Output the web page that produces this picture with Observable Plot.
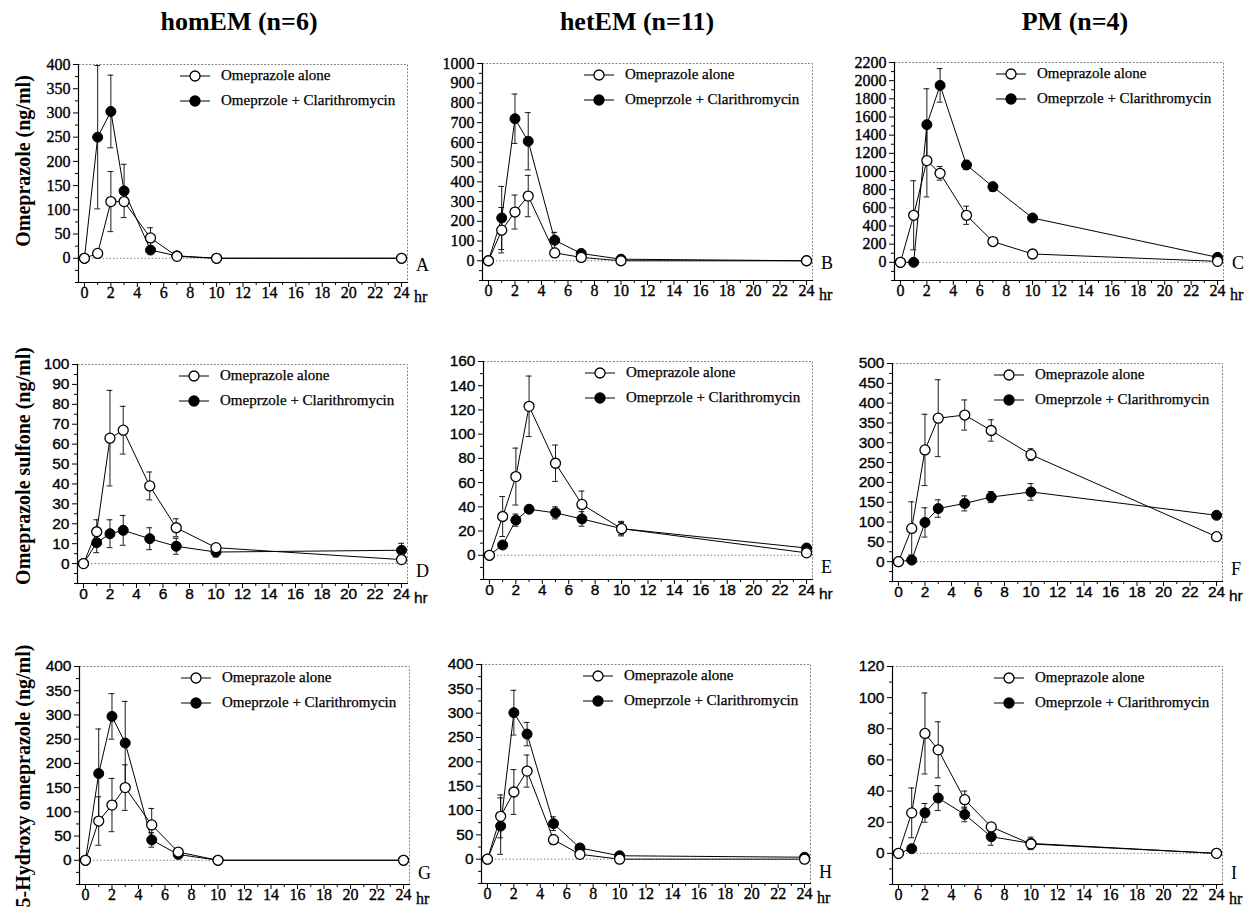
<!DOCTYPE html>
<html><head><meta charset="utf-8">
<script src="https://cdn.jsdelivr.net/npm/d3@7"></script>
<script src="https://cdn.jsdelivr.net/npm/@observablehq/plot@0.6"></script>
<style>
body{margin:0;background:#fff;}
#root{position:relative;width:1245px;height:911px;overflow:hidden;background:#fff;}
.abs{position:absolute;white-space:nowrap;color:#000;}
#root svg{overflow:visible;}
</style></head><body><div id="root"></div>
<script>
// ---------- data ----------
const times = [0, 1, 2, 3, 5, 7, 10, 24];
const groupTitles = ["homEM (n=6)", "hetEM (n=11)", "PM (n=4)"];
const analyteTitles = ["Omeprazole (ng/ml)", "Omeprazole sulfone (ng/ml)", "5-Hydroxy omeprazole (ng/ml)"];
const seriesNames = ["Omeprazole alone", "Omeprzole + Clarithromycin"];
const panelLetters = ["A", "B", "C", "D", "E", "F", "G", "H", "I"];
const xTickLabels = [0, 2, 4, 6, 8, 10, 12, 14, 16, 18, 20, 22, 24];
const timeUnit = "hr";

// y axis ranges [min, max, labelled step]
const yRanges = [
  [-50, 400, 50], [-100, 1000, 100], [-200, 2200, 200],
  [-10, 100, 10], [-20, 160, 20], [-50, 500, 50],
  [-50, 400, 50], [-50, 400, 50], [-20, 120, 20]
];

// Panel A: homEM omeprazole
const aloneA    = [0, 10, 117, 117, 42, 4, 0, 0];
const aloneErrA = [0, 0, 62, 0, 21, 0, 0, 0];
const comboA    = [0, 250, 303, 139, 17, 5, 0, 0];
const comboErrA = [0, 148, 75, 55, 0, 0, 0, 0];
// Panel B: hetEM omeprazole
const aloneB    = [0, 155, 247, 328, 40, 17, 0, 0];
const aloneErrB = [0, 115, 86, 105, 0, 0, 0, 0];
const comboB    = [0, 217, 720, 606, 104, 37, 8, 0];
const comboErrB = [0, 160, 125, 145, 40, 0, 0, 0];
// Panel C: PM omeprazole
const aloneC    = [0, 518, 1120, 980, 518, 229, 92, 11];
const aloneErrC = [0, 380, 400, 75, 100, 0, 0, 0];
const comboC    = [0, 0, 1516, 1948, 1072, 832, 488, 55];
const comboErrC = [0, 0, 395, 185, 50, 50, 0, 0];
// Panel D: homEM sulfone
const aloneD    = [0, 16, 63, 67, 39, 18, 8, 2];
const aloneErrD = [0, 6, 24, 12, 7, 4.5, 1, 0];
const comboD    = [0, 10.5, 15, 16.7, 12.5, 8.7, 5.8, 6.7];
const comboErrD = [0, 5, 7, 7.5, 5.5, 4, 2.5, 3.5];
// Panel E: hetEM sulfone
const aloneE    = [0, 32, 65, 123, 76, 42, 22, 2];
const aloneErrE = [0, 16.5, 23.5, 25, 15, 11, 6, 0];
const comboE    = [0, 8.5, 29, 38, 35, 30, 22, 6];
const comboErrE = [0, 0, 5, 0, 5, 6, 5, 0];
// Panel F: PM sulfone
const aloneF    = [0, 84, 282, 362, 370, 331, 270, 63];
const aloneErrF = [0, 67, 90, 97, 38, 27, 15, 0];
const comboF    = [0, 4, 99, 134, 147, 163, 176, 117];
const comboErrF = [0, 0, 37, 22, 19, 14, 21, 0];
// Panel G: homEM 5-hydroxy
const aloneG    = [0, 81, 114, 150, 73, 17, 0, 0];
const aloneErrG = [0, 50, 55, 47, 34, 5, 0, 0];
const comboG    = [0, 179, 297, 242, 42, 12, 0, 0];
const comboErrG = [0, 92, 47, 86, 15, 0, 0, 0];
// Panel H: hetEM 5-hydroxy
const aloneH    = [0, 88, 138, 181, 40, 10, 0, 0];
const aloneErrH = [0, 44, 46, 33, 10, 0, 0, 0];
const comboH    = [0, 68, 301, 257, 73, 23, 7, 4];
const comboErrH = [0, 58, 46, 24, 14, 0, 0, 0];
// Panel I: PM 5-hydroxy
const aloneI    = [0, 26, 77, 66.5, 34.5, 17, 6, 0];
const aloneErrI = [0, 16, 26, 18, 5.5, 0, 3, 0];
const comboI    = [0, 3, 26, 35.5, 25, 10.7, 6.4, 0];
const comboErrI = [0, 0, 6, 8, 4.7, 5.5, 4, 0];

const panelSeries = [
  [aloneA, aloneErrA, comboA, comboErrA], [aloneB, aloneErrB, comboB, comboErrB], [aloneC, aloneErrC, comboC, comboErrC],
  [aloneD, aloneErrD, comboD, comboErrD], [aloneE, aloneErrE, comboE, comboErrE], [aloneF, aloneErrF, comboF, comboErrF],
  [aloneG, aloneErrG, comboG, comboErrG], [aloneH, aloneErrH, comboH, comboErrH], [aloneI, aloneErrI, comboI, comboErrI]
];

// ---------- layout ----------
const frames = [
  [78, 64, 407, 282], [482, 63, 812, 280], [894, 62, 1223, 280],
  [77, 364, 407, 583], [483, 361, 812, 579], [892, 363, 1222, 581],
  [79, 666, 409, 884], [481, 664, 810, 883], [892, 666, 1222, 884]
];
const SERIF = "Liberation Serif";
const SANS = "Liberation Sans";
// fonts per row: [yFont, ySize, xFont, xSize]
const rowFonts = [[SERIF, 16, SERIF, 16], [SANS, 15.5, SANS, 15.5], [SANS, 15.5, SERIF, 16]];
const ML = 55, MR = 8, MT = 8, MB = 30;
const root = document.getElementById("root");

function addText(txt, x, y, css) {
  const d = document.createElement("div");
  d.className = "abs";
  d.textContent = txt;
  d.style.cssText += css;
  d.style.left = x + "px";
  d.style.top = y + "px";
  root.appendChild(d);
  return d;
}

for (let i = 0; i < 9; i++) {
  const [L, T, R, B] = frames[i];
  const [ymin, ymax, step] = yRanges[i];
  const [al, ae, co, ce] = panelSeries[i];
  const row = Math.floor(i / 3);
  const [yFont, ySize, xFont, xSize] = rowFonts[row];
  const data = times.map((t, k) => ({t, a: al[k], ae: ae[k], c: co[k], ce: ce[k]}));
  const aErr = data.filter(d => d.ae > 0);
  const cErr = data.filter(d => d.ce > 0);
  const major = d3.range(0, ymax + step / 4, step);
  const minor = d3.range(ymin, ymax + step / 4, step / 2).filter(v => v < 0 || Math.abs(v / step - Math.round(v / step)) > 0.01);
  const xMinor = d3.range(1, 24, 2);
  const cap = 0.22;
  const errMarks = (arr, yk, ek) => [
    Plot.ruleX(arr, {x: "t", y1: d => d[yk] - d[ek], y2: d => d[yk] + d[ek], stroke: "black", strokeWidth: 0.9}),
    Plot.ruleY(arr, {y: d => d[yk] + d[ek], x1: d => d.t - cap, x2: d => d.t + cap, stroke: "black", strokeWidth: 0.9}),
    Plot.ruleY(arr, {y: d => d[yk] - d[ek], x1: d => d.t - cap, x2: d => d.t + cap, stroke: "black", strokeWidth: 0.9})
  ];
  const chart = Plot.plot({
    width: R - L + ML + MR,
    height: B - T + MT + MB,
    marginLeft: ML, marginRight: MR, marginTop: MT, marginBottom: MB,
    x: {domain: [-0.45, 24.45], label: null},
    y: {domain: [ymin, ymax], label: null},
    style: {color: "black", background: "transparent"},
    marks: [
      Plot.frame({stroke: "#666", strokeWidth: 0.8, strokeDasharray: "2,1.5"}),
      Plot.ruleY([0], {stroke: "#666", strokeWidth: 0.8, strokeDasharray: "1.5,2"}),
      Plot.line(data, {x: "t", y: "c", stroke: "black", strokeWidth: 1}),
      Plot.line(data, {x: "t", y: "a", stroke: "black", strokeWidth: 1}),
      ...errMarks(cErr, "c", "ce"),
      ...errMarks(aErr, "a", "ae"),
      Plot.dot(data, {x: "t", y: "c", r: 5, fill: "black", stroke: "black", strokeWidth: 1}),
      Plot.dot(data, {x: "t", y: "a", r: 5, fill: "white", stroke: "black", strokeWidth: 1.3}),
      Plot.axisY(major, {tickSize: 5, tickFormat: () => "", label: null}),
      Plot.axisY(minor, {tickSize: 3, tickFormat: () => "", label: null}),
      Plot.axisX(xTickLabels, {tickSize: 5, tickFormat: () => "", label: null}),
      Plot.axisX(xMinor, {tickSize: 3, tickFormat: () => "", label: null}),
      // tick labels as text marks with explicit fonts
      Plot.text(major, {y: d => d, text: d => String(d), frameAnchor: "left", dx: -8, textAnchor: "end",
        fontFamily: yFont, fontSize: ySize, fill: "black", stroke: "black", strokeWidth: 0.35}),
      Plot.text(xTickLabels, {x: d => d, text: d => String(d), frameAnchor: "bottom", dy: 15,
        fontFamily: xFont, fontSize: xSize, fill: "black", stroke: "black", strokeWidth: 0.35}),
      Plot.frame({anchor: "left", stroke: "black", strokeWidth: 1.2}),
      Plot.frame({anchor: "bottom", stroke: "black", strokeWidth: 1.2})
    ]
  });
  chart.style.position = "absolute";
  chart.style.left = (L - ML) + "px";
  chart.style.top = (T - MT) + "px";
  chart.style.maxWidth = "none";
  root.appendChild(chart);

  // legend
  seriesNames.forEach((name, s) => {
    const d = document.createElement("div");
    d.className = "abs";
    d.style.left = (L + 102) + "px";
    d.style.top = (T + 12 + s * 24.5 - 9) + "px";
    d.style.height = "18px";
    d.style.lineHeight = "18px";
    d.innerHTML = `<svg width="30" height="18" style="vertical-align:top;overflow:visible"><line x1="0" x2="30" y1="9" y2="9" stroke="black" stroke-width="1"/><circle cx="15" cy="9" r="5" fill="${s ? "black" : "white"}" stroke="black" stroke-width="1.3"/></svg><span style="margin-left:11px;font:15px '${SERIF}';vertical-align:top;-webkit-text-stroke:0.25px black;">${name}</span>`;
    root.appendChild(d);
  });

  // panel letter
  const letterOff = [17, 12, 11][row];
  addText(panelLetters[i], R + 9, B - letterOff - 10, `font:18px '${SERIF}';line-height:20px;`);
  // time unit
  addText(timeUnit, R + 7, B + 15 - 9, `font:${xSize}px '${xFont}';line-height:18px;-webkit-text-stroke:0.3px black;`);
}

// column titles
const titleCenters = [239, 637, 1075];
groupTitles.forEach((t, c) => {
  addText(t, titleCenters[c] - 150, 6, `width:300px;text-align:center;font:bold 26px '${SERIF}';line-height:32px;`);
});

// row titles (rotated)
const rowCenters = [161, 466, 776];
analyteTitles.forEach((t, r) => {
  addText(t, 23 - 200, rowCenters[r] - 12, `width:400px;text-align:center;font:bold 20px '${SERIF}';line-height:24px;transform:rotate(-90deg);`);
});
</script>
</body></html>
